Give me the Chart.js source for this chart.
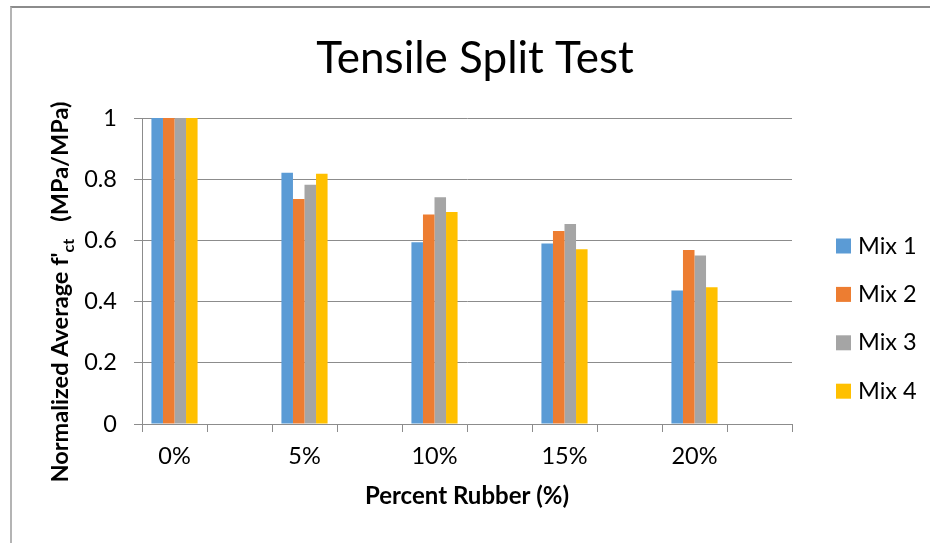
<!DOCTYPE html>
<html>
<head>
<meta charset="utf-8">
<title>Tensile Split Test</title>
<script src="https://cdn.jsdelivr.net/npm/chart.js@4"></script>
<style>
  html, body { margin: 0; padding: 0; background: #fff; }
  #wrap { position: relative; width: 930px; height: 543px; overflow: hidden; }
  #frame {
    position: absolute; left: 10px; top: 6px; width: 1000px; height: 700px;
    border-left: 2px solid #b4b4b4; border-top: 2px solid #8c8c8c;
    pointer-events: none;
  }
</style>
</head>
<body>
<div id="wrap">
  <canvas id="splitChart" width="930" height="543"></canvas>
  <div id="frame"></div>
</div>
<script>
// Data
const categories = ['0%', '5%', '10%', '15%', '20%'];
const seriesNames = ['Mix 1', 'Mix 2', 'Mix 3', 'Mix 4'];
const mix1 = [1, 0.821, 0.594, 0.590, 0.436];
const mix2 = [1, 0.735, 0.685, 0.631, 0.569];
const mix3 = [1, 0.782, 0.741, 0.654, 0.551];
const mix4 = [1, 0.818, 0.693, 0.571, 0.447];
const yTicks = [0, 0.2, 0.4, 0.6, 0.8, 1];
const colors = ['#5B9BD5', '#ED7D31', '#A5A5A5', '#FFC000'];

const FONT = 'Lato, "Open Sans", sans-serif';
const GRID = '#8c8c8c';

// Excel put an empty category between each rubber percentage
const labels = categories.flatMap(c => [c, '']);
const spread = vals => vals.flatMap(v => [v, null]);

const datasets = [mix1, mix2, mix3, mix4].map((vals, i) => ({
  label: seriesNames[i],
  data: spread(vals),
  backgroundColor: colors[i],
  borderWidth: 0,
  categoryPercentage: 0.71,
  barPercentage: 1.0
}));

// Title, y-axis title (with subscript) and legend drawn by hand
const decorations = {
  id: 'decorations',
  afterDraw(chart) {
    const ctx = chart.ctx;
    ctx.save();
    ctx.fillStyle = '#000';

    // chart title
    ctx.font = '44px ' + FONT;
    ctx.textAlign = 'center';
    ctx.textBaseline = 'alphabetic';
    ctx.fillText('Tensile Split Test', 475, 73);

    // y-axis title, rotated, with subscript "ct"
    ctx.translate(68, 292);
    ctx.rotate(-Math.PI / 2);
    const parts = [
      { t: "Normalized Average f'", f: 'bold 23.5px ' + FONT, dy: 0 },
      { t: 'ct', f: 'bold 16px ' + FONT, dy: 6 },
      { t: '   (MPa/MPa)', f: 'bold 23.5px ' + FONT, dy: 0 }
    ];
    let total = 0;
    parts.forEach(p => { ctx.font = p.f; p.w = ctx.measureText(p.t).width; total += p.w; });
    let x = -total / 2;
    ctx.textAlign = 'left';
    parts.forEach(p => {
      ctx.font = p.f;
      ctx.fillText(p.t, x, p.dy);
      x += p.w;
    });
    ctx.restore();

    // legend
    ctx.save();
    ctx.font = '23.5px ' + FONT;
    ctx.textBaseline = 'middle';
    ctx.textAlign = 'left';
    chart.data.datasets.forEach((ds, i) => {
      const cy = 246 + i * 48.4;
      ctx.fillStyle = ds.backgroundColor;
      ctx.fillRect(836, cy - 7.5, 15, 15);
      ctx.fillStyle = '#000';
      ctx.fillText(ds.label, 858, cy);
    });
    ctx.restore();
  }
};

new Chart(document.getElementById('splitChart'), {
  type: 'bar',
  data: { labels: labels, datasets: datasets },
  options: {
    responsive: false,
    animation: false,
    layout: { padding: { top: 118, right: 138, left: 0, bottom: 0 } },
    plugins: {
      legend: { display: false },
      title: { display: false },
      tooltip: { enabled: false }
    },
    scales: {
      x: {
        afterFit: s => { s.height = 119; },
        grid: {
          offset: true,
          drawOnChartArea: false,
          drawTicks: true,
          tickLength: 8,
          color: GRID
        },
        border: { display: true, color: GRID, width: 1 },
        ticks: {
          autoSkip: false,
          maxRotation: 0,
          padding: 10,
          color: '#000',
          font: { family: FONT, size: 23.5 }
        },
        title: {
          display: true,
          text: 'Percent Rubber (%)',
          color: '#000',
          font: { family: FONT, size: 24, weight: 'bold' },
          padding: { top: 0, bottom: 32 }
        }
      },
      y: {
        min: 0,
        max: 1,
        afterFit: s => { s.width = 142; },
        afterBuildTicks: s => { s.ticks = yTicks.map(v => ({ value: v })); },
        grid: {
          color: GRID,
          drawTicks: true,
          tickLength: 8
        },
        border: { display: true, color: GRID, width: 1 },
        ticks: {
          padding: 17,
          color: '#000',
          font: { family: FONT, size: 23.5 },
          callback: v => String(+v.toFixed(1))
        }
      }
    }
  },
  plugins: [decorations]
});
</script>
</body>
</html>
